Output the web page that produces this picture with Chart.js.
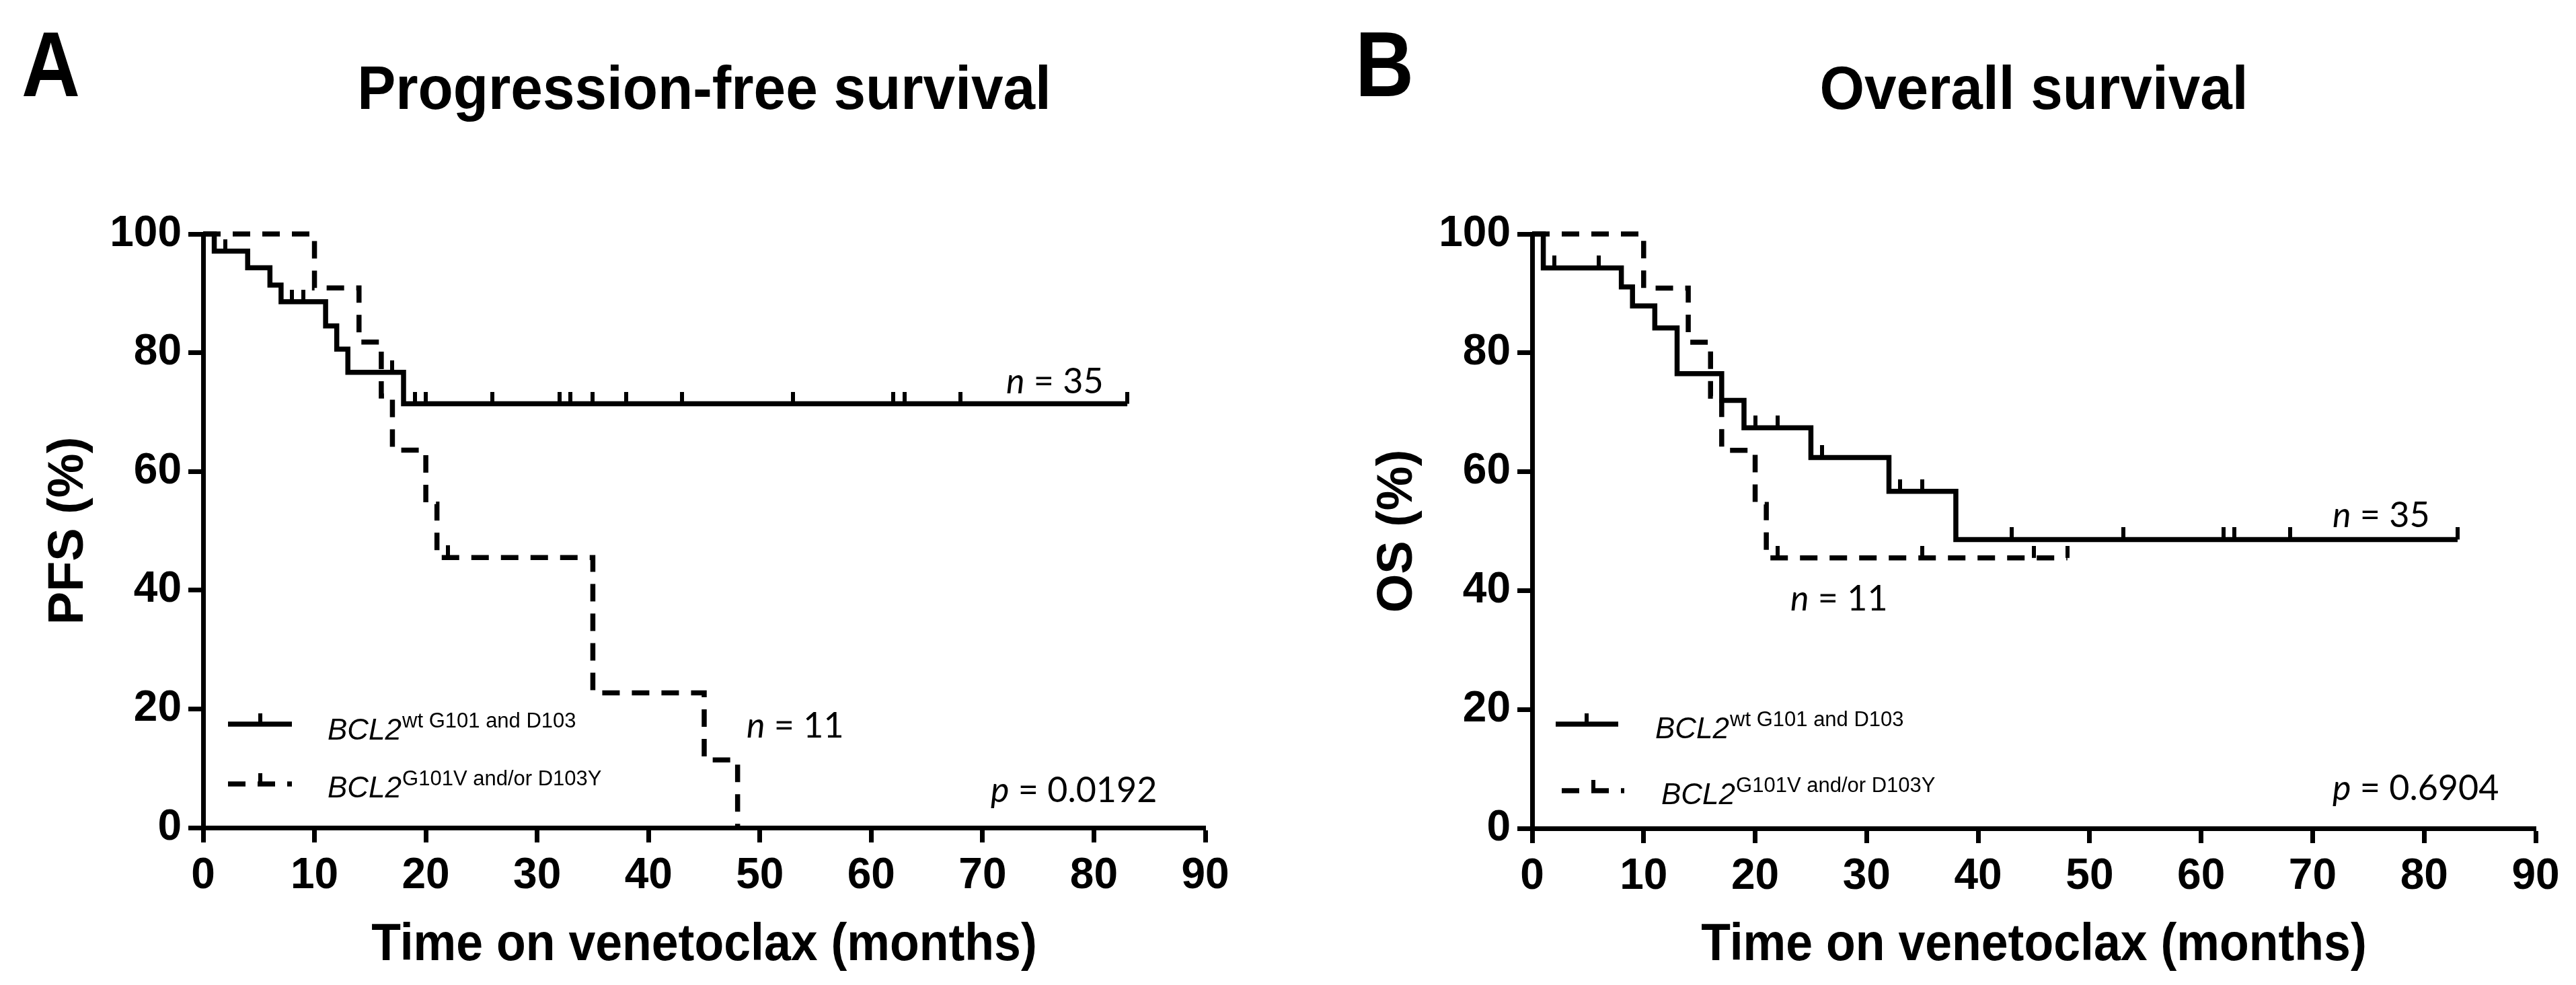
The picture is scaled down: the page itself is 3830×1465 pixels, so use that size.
<!DOCTYPE html>
<html>
<head>
<meta charset="utf-8">
<title>Progression-free and overall survival</title>
<script src="https://cdn.jsdelivr.net/npm/chart.js@4.4.1/dist/chart.umd.min.js"></script>
<style>
  html, body { margin: 0; padding: 0; background: #fff; }
  #wrap { position: relative; width: 3830px; height: 1465px; }
  .panel { position: absolute; top: 0; width: 1915px; height: 1465px; }
</style>
</head>
<body>
<div id="wrap">
  <div class="panel" style="left:0"><canvas id="pfsChart" width="1915" height="1465"></canvas></div>
  <div class="panel" style="left:1915px"><canvas id="osChart" width="1915" height="1465"></canvas></div>
</div>
<script>
// axis ticks
const timeTicks = [0, 10, 20, 30, 40, 50, 60, 70, 80, 90];
const survTicks = [0, 20, 40, 60, 80, 100];

// A - progression-free survival
const pfsWtTime = [0, 1, 4, 6, 7, 11, 12, 13, 18, 83];
const pfsWtSurv = [100, 97.1, 94.3, 91.4, 88.6, 84.5, 80.6, 76.7, 71.4, 71.4];
const pfsWtCens = [2, 8, 9, 17, 19, 20, 26, 32, 33, 35, 38, 43, 53, 62, 63, 68, 83];
const pfsMutTime = [0, 10, 14, 16, 17, 20, 21, 35, 45, 48];
const pfsMutSurv = [100, 90.9, 81.8, 72.7, 63.6, 54.5, 45.5, 22.7, 11.4, 0];
const pfsMutCens = [22];

// B - overall survival
const osWtTime = [0, 1, 8, 9, 11, 13, 17, 19, 25, 32, 38, 83];
const osWtSurv = [100, 94.3, 91.1, 87.9, 84.2, 76.5, 72.0, 67.4, 62.4, 56.7, 48.6, 48.6];
const osWtCens = [2, 6, 20, 22, 26, 33, 35, 43, 53, 62, 63, 68, 83];
const osMutTime = [0, 10, 14, 16, 17, 20, 21, 48];
const osMutSurv = [100, 90.9, 81.8, 72.7, 63.6, 54.5, 45.5, 45.5];
const osMutCens = [22, 35, 45, 48];

const FONT = "'Liberation Sans', Arial, sans-serif";
const NFONT = "Lato, 'Open Sans', sans-serif";
const LW = 7.5;
const DASH = [26, 18];

// censor mark: short vertical bar sitting on top of the curve
const tickImg = document.createElement('canvas');
tickImg.width = 6;
tickImg.height = 36;
const tctx = tickImg.getContext('2d');
tctx.fillStyle = '#000';
tctx.fillRect(0, 0, 6, 18);

function curve(times, surv) {
  return times.map((t, i) => ({ x: t, y: surv[i] }));
}

function censorMarks(cens, times, surv) {
  return cens.map(t => {
    let i = 0;
    while (i + 1 < times.length && times[i + 1] <= t) i++;
    return { x: t, y: surv[i] };
  });
}

function squeezeText(ctx, text, x, y, sx, align) {
  ctx.save();
  ctx.translate(x, y);
  ctx.scale(sx, 1);
  ctx.textAlign = align;
  ctx.fillText(text, 0, 0);
  ctx.restore();
}

const panelText = {
  id: 'panelText',
  afterDraw(chart, args, o) {
    const ctx = chart.ctx;
    const a = chart.chartArea;
    const L = a.left;
    const cx = (a.left + a.right) / 2;
    const cy = (a.top + a.bottom) / 2;
    ctx.save();
    ctx.fillStyle = '#000';
    ctx.strokeStyle = '#000';
    ctx.textBaseline = 'alphabetic';

    ctx.font = `bold 137px ${FONT}`;
    squeezeText(ctx, o.letter, L + o.letterDx, 143, 0.88, 'left');
    ctx.font = `bold 91px ${FONT}`;
    squeezeText(ctx, o.title, cx, 162, 0.94, 'center');
    ctx.font = `bold 77px ${FONT}`;
    squeezeText(ctx, 'Time on venetoclax (months)', cx, 1428, 0.93, 'center');

    ctx.save();
    ctx.translate(L - 179, cy);
    ctx.rotate(-Math.PI / 2);
    ctx.font = `bold 74px ${FONT}`;
    ctx.textAlign = 'center';
    ctx.fillText(o.yTitle, 0, 0);
    ctx.restore();

    // legend
    o.legend.forEach(r => {
      ctx.lineWidth = LW;
      ctx.setLineDash(r.dash);
      ctx.beginPath();
      ctx.moveTo(L + r.x1, r.y);
      ctx.lineTo(L + r.x2, r.y);
      ctx.stroke();
      ctx.setLineDash([]);
      ctx.fillRect(L + r.tick - 3, r.y - 16, 6, 16);
      ctx.textAlign = 'left';
      ctx.font = `italic 44px ${FONT}`;
      ctx.fillText('BCL2', L + r.tx, r.ty);
      const w = ctx.measureText('BCL2').width;
      ctx.font = `31px ${FONT}`;
      ctx.fillText(r.sup, L + r.tx + w + 1, r.ty - 18);
    });

    // n and p annotations
    o.notes.forEach(n => {
      ctx.textAlign = 'left';
      ctx.font = `italic 52px ${NFONT}`;
      ctx.fillText(n.v, L + n.dx, n.y);
      const w = ctx.measureText(n.v).width;
      ctx.font = `52px ${NFONT}`;
      ctx.fillText(' = ' + n.val, L + n.dx + w, n.y);
    });
    ctx.restore();
  }
};

function makeChart(id, wt, mut, pad, text) {
  const lineDs = (data, dash) => ({
    data: data,
    borderColor: '#000',
    borderWidth: LW,
    borderDash: dash,
    borderJoinStyle: 'miter',
    stepped: 'before',
    pointRadius: 0,
    fill: false,
    clip: false
  });
  const censDs = data => ({
    data: data,
    showLine: false,
    pointStyle: tickImg,
    pointRadius: 10,
    borderWidth: 0,
    clip: false
  });
  return new Chart(document.getElementById(id), {
    type: 'line',
    data: {
      datasets: [
        lineDs(curve(wt.t, wt.s), []),
        lineDs(curve(mut.t, mut.s), DASH),
        censDs(censorMarks(wt.c, wt.t, wt.s)),
        censDs(censorMarks(mut.c, mut.t, mut.s))
      ]
    },
    options: {
      responsive: false,
      animation: false,
      events: [],
      layout: { padding: pad },
      plugins: {
        legend: { display: false },
        tooltip: { enabled: false },
        panelText: text
      },
      scales: {
        x: {
          type: 'linear',
          min: timeTicks[0],
          max: timeTicks[timeTicks.length - 1],
          afterBuildTicks: s => { s.ticks = timeTicks.map(v => ({ value: v })); },
          afterFit: s => { s.height = 150; },
          ticks: { color: '#000', padding: 12, font: { family: FONT, size: 64, weight: 'bold' } },
          grid: { drawOnChartArea: false, tickLength: 22, tickWidth: 7, tickColor: '#000' },
          border: { display: true, color: '#000', width: 7 }
        },
        y: {
          type: 'linear',
          min: survTicks[0],
          max: survTicks[survTicks.length - 1],
          afterBuildTicks: s => { s.ticks = survTicks.map(v => ({ value: v })); },
          afterFit: s => { s.width = 250; },
          ticks: { color: '#000', padding: 10, font: { family: FONT, size: 64, weight: 'bold' } },
          grid: { drawOnChartArea: false, tickLength: 22, tickWidth: 7, tickColor: '#000' },
          border: { display: true, color: '#000', width: 7 }
        }
      }
    },
    plugins: [panelText]
  });
}

makeChart('pfsChart',
  { t: pfsWtTime, s: pfsWtSurv, c: pfsWtCens },
  { t: pfsMutTime, s: pfsMutSurv, c: pfsMutCens },
  { left: 52, right: 123, top: 348, bottom: 84 },
  {
    letter: 'A', letterDx: -270,
    title: 'Progression-free survival',
    yTitle: 'PFS (%)',
    legend: [
      { x1: 37, x2: 132, y: 1077, tick: 85, dash: [], tx: 185, ty: 1100, sup: 'wt G101 and D103' },
      { x1: 37, x2: 132, y: 1166, tick: 85, dash: DASH, tx: 185, ty: 1186, sup: 'G101V and/or D103Y' }
    ],
    notes: [
      { v: 'n', val: '35', dx: 1194, y: 585 },
      { v: 'n', val: '11', dx: 808, y: 1097 },
      { v: 'p', val: '0.0192', dx: 1171, y: 1193 }
    ]
  });

makeChart('osChart',
  { t: osWtTime, s: osWtSurv, c: osWtCens },
  { t: osMutTime, s: osMutSurv, c: osMutCens },
  { left: 113, right: 60, top: 348, bottom: 83 },
  {
    letter: 'B', letterDx: -263,
    title: 'Overall survival',
    yTitle: 'OS (%)',
    legend: [
      { x1: 35, x2: 128, y: 1077, tick: 81, dash: [], tx: 183, ty: 1098, sup: 'wt G101 and D103' },
      { x1: 44, x2: 137, y: 1176, tick: 91, dash: DASH, tx: 192, ty: 1196, sup: 'G101V and/or D103Y' }
    ],
    notes: [
      { v: 'n', val: '35', dx: 1190, y: 784 },
      { v: 'n', val: '11', dx: 384, y: 908 },
      { v: 'p', val: '0.6904', dx: 1190, y: 1190 }
    ]
  });
</script>
</body>
</html>
